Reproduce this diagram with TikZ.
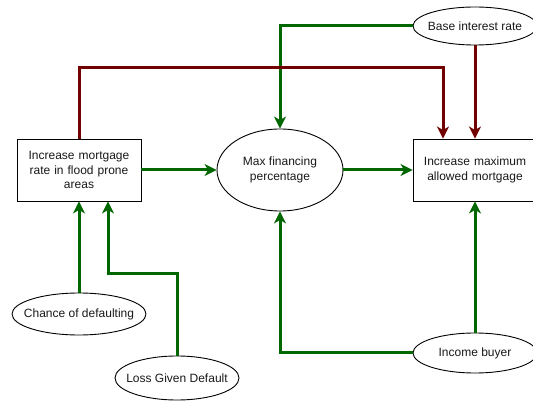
\documentclass[tikz,border=0pt]{standalone}
\usepackage{fontspec}
\setmainfont{Liberation Sans}
\usetikzlibrary{shapes.geometric,arrows.meta}
\definecolor{linkgreen}{RGB}{0,102,0}
\definecolor{linkred}{RGB}{115,0,0}
\definecolor{labeltext}{RGB}{25,25,25}
\begin{document}
\begin{tikzpicture}[x=1pt,y=-1pt,
  every node/.style={font=\fontsize{12}{14.4}\selectfont, text=labeltext, inner sep=0pt},
  factor/.style={draw=black, line width=0.9pt, fill=white, rectangle,
    minimum width=124pt, minimum height=62pt, text width=112pt, align=center},
  % ellipse of fixed size, its text set as a centred label
  driver/.style={draw=black, line width=0.9pt, fill=white, ellipse,
    label={[align=center]center:#1}},
  poslink/.style={draw=linkgreen, line width=3pt, -{Stealth[length=12pt,width=12pt,inset=3.5pt]}},
  neglink/.style={draw=linkred, line width=3pt, -{Stealth[length=12pt,width=12pt,inset=3.5pt]}}]
\useasboundingbox (0,0) rectangle (533,403);

% boxes and ellipses
\node[factor] (lbox) at (79,170) {Increase mortgage\\rate in flood prone\\areas};
\node[driver={Max financing\\percentage}, minimum width=126pt, minimum height=82pt] (maxfin) at (280,170) {};
\node[factor] (rbox) at (475,170) {Increase maximum\\allowed mortgage};
\node[driver={Base interest rate}, minimum width=124pt, minimum height=38pt] (base) at (475,26) {};
\node[driver={Chance of defaulting}, minimum width=134pt, minimum height=42pt] (chance) at (79,314) {};
\node[driver={Loss Given Default}, minimum width=124pt, minimum height=44pt] (loss) at (177,378) {};
\node[driver={Income buyer}, minimum width=124pt, minimum height=40pt] (income) at (475,353) {};

% bend points
\coordinate (toprun) at (443,68);
\coordinate (losskink) at (108,274);

% connectors
\draw[poslink] (base.west) -| (maxfin.north);
\draw[neglink] (base.south) -- (base.south |- rbox.north);
\draw[neglink] (lbox.north) |- (toprun) -- (toprun |- rbox.north);
\draw[poslink] (lbox.east) -- (maxfin.west);
\draw[poslink] (maxfin.east) -- (rbox.west);
\draw[poslink] (chance.north) -- (chance.north |- lbox.south);
\draw[poslink] (loss.north) |- (losskink) -- (losskink |- lbox.south);
\draw[poslink] (income.west) -| (maxfin.south);
\draw[poslink] (income.north) -- (income.north |- rbox.south);
\end{tikzpicture}
\end{document}
